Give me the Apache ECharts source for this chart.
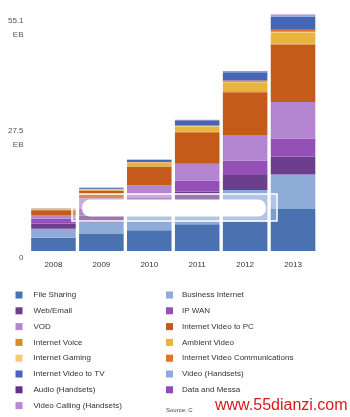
<!DOCTYPE html>
<html>
<head>
<meta charset="utf-8">
<script src="https://cdn.jsdelivr.net/npm/echarts@6/dist/echarts.min.js"></script>
<style>
  html, body { margin: 0; padding: 0; background: #fff; }
  #main { width: 350px; height: 417px; }
</style>
</head>
<body>
<div id="main"></div>
<script>
// years on the x axis
var years = ['2008', '2009', '2010', '2011', '2012', '2013'];
// y axis tick labels (EB per month)
var yTicks = ['0', '27.5', '55.1'];

// traffic by application, EB (stack order bottom -> top)
var fileSharing   = [3.1, 3.95, 4.85, 6.25, 6.9, 9.8];
var businessNet   = [2.1, 2.75, 4.5, 5.0, 7.3, 8.0];
var webEmail      = [1.2, 1.55, 1.6, 2.6, 3.5, 4.2];
var ipWan         = [1.1, 1.55, 1.6, 2.5, 3.35, 4.2];
var vod           = [0.9, 2.5, 2.75, 4.0, 5.95, 8.5];
var videoToPc     = [1.1, 1.7, 4.3, 7.3, 10.0, 13.4];
var internetVoice = [0.1, 0.1, 0.15, 0.18, 0.2, 0.22];
var ambientVideo  = [0.2, 0.3, 0.8, 1.15, 2.1, 2.6];
var gaming        = [0.05, 0.05, 0.1, 0.13, 0.15, 0.18];
var videoComms    = [0.03, 0.05, 0.1, 0.2, 0.3, 0.45];
var videoToTv     = [0.05, 0.25, 0.5, 1.1, 1.9, 3.1];
var videoHandsets = [0.01, 0.02, 0.04, 0.08, 0.17, 0.25];
var audioHandsets = [0.005, 0.005, 0.01, 0.01, 0.02, 0.03];
var dataMessaging = [0.005, 0.01, 0.02, 0.04, 0.07, 0.1];
var videoCalling  = [0.005, 0.005, 0.01, 0.02, 0.04, 0.07];

var names = ['File Sharing', 'Business Internet', 'Web/Email', 'IP WAN', 'VOD',
  'Internet Video to PC', 'Internet Voice', 'Ambient Video', 'Internet Gaming',
  'Internet Video Communications', 'Internet Video to TV', 'Video (Handsets)',
  'Audio (Handsets)', 'Data and Messa', 'Video Calling (Handsets)'];
var values = [fileSharing, businessNet, webEmail, ipWan, vod, videoToPc, internetVoice,
  ambientVideo, gaming, videoComms, videoToTv, videoHandsets, audioHandsets,
  dataMessaging, videoCalling];
var colors = ['#4a71b0', '#8fabd8', '#6e3e8e', '#9450b6', '#b485d0', '#c45b1b', '#d8892c',
  '#e8b53a', '#f1cc7a', '#e3722a', '#4566b4', '#8dabdc', '#61328a', '#9148b8', '#b888d6'];

var chart = echarts.init(document.getElementById('main'));

var series = names.map(function (n, i) {
  return {
    name: n,
    type: 'bar',
    stack: 'traffic',
    barCategoryGap: '7%',
    itemStyle: { color: colors[i] },
    data: values[i]
  };
});

function legendText(pad) {
  return { color: '#333', fontSize: 8, fontFamily: 'Liberation Sans', lineHeight: 10, padding: [0, 0, 0, pad] };
}

var option = {
  animation: false,
  backgroundColor: '#fff',
  color: colors,
  grid: { left: 29.5, right: 33, top: 4, bottom: 166 },
  xAxis: {
    type: 'category',
    data: years,
    axisLine: { show: false },
    axisTick: { show: false },
    axisLabel: { color: '#333', fontSize: 8, fontFamily: 'Liberation Sans', margin: 10 }
  },
  yAxis: {
    type: 'value',
    min: 0,
    max: 55.1,
    interval: 27.55,
    splitLine: { show: false },
    axisLine: { show: false },
    axisTick: { show: false },
    axisLabel: {
      margin: 6,
      formatter: function (v, idx) {
        if (idx === 0) return '{s0| }\n{a|' + yTicks[0] + '}';
        if (idx === 1) return '{s1| }\n{a|' + yTicks[1] + '}\n{a|EB}';
        return '{s2| }\n{a|' + yTicks[2] + '}\n{a|EB}';
      },
      rich: {
        a: { color: '#555', fontSize: 8, fontFamily: 'Liberation Sans', lineHeight: 14, align: 'right' },
        s0: { lineHeight: 14, fontSize: 1 },
        s1: { lineHeight: 10, fontSize: 1 },
        s2: { lineHeight: 26, fontSize: 1 }
      }
    }
  },
  legend: [
    {
      orient: 'vertical', left: 15.5, top: 290, height: 200, padding: 0,
      itemWidth: 7, itemHeight: 7, itemGap: 5.8,
      icon: 'rect', textStyle: legendText(6), selectedMode: false,
      data: names.filter(function (n, i) { return i % 2 === 0; })
    },
    {
      orient: 'vertical', left: 166, top: 290, height: 200, padding: 0,
      itemWidth: 7, itemHeight: 7, itemGap: 5.8,
      icon: 'rect', textStyle: legendText(4), selectedMode: false,
      data: names.filter(function (n, i) { return i % 2 === 1; })
    }
  ],
  graphic: [
    // washed-out box and white scribble that sit over the bars in the picture
    { type: 'rect', z: 100, shape: { x: 72, y: 194, width: 205, height: 27 },
      style: { fill: 'rgba(255,255,255,0.3)', stroke: '#fff', lineWidth: 1.5 } },
    { type: 'rect', z: 101, shape: { x: 82, y: 199.5, width: 184, height: 17, r: 8 },
      style: { fill: '#fff' } },
    { type: 'text', left: 166, top: 407, z: 100,
      style: { text: 'Source: C', fill: '#444', fontSize: 6, fontFamily: 'Liberation Sans' } },
    { type: 'text', left: 215, top: 398, z: 100,
      style: { text: 'www.55dianzi.com', fill: '#d8191c', fontSize: 16, fontFamily: 'Liberation Sans' } }
  ],
  series: series
};

chart.setOption(option);
</script>
</body>
</html>
